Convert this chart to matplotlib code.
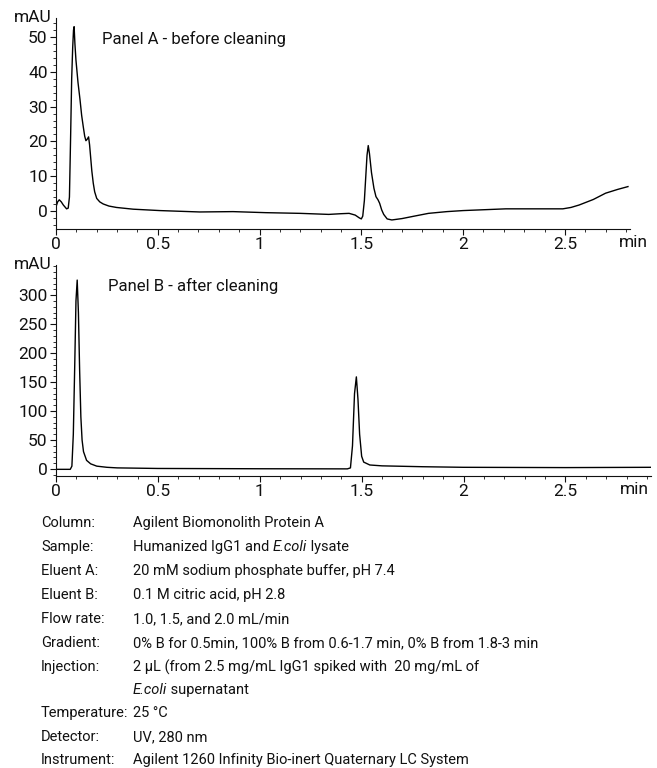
import matplotlib
matplotlib.use("Agg")
import matplotlib.pyplot as plt
from matplotlib.ticker import MultipleLocator, FixedLocator, FuncFormatter
from matplotlib.transforms import blended_transform_factory

plt.rcParams['font.family'] = ['Roboto', 'DejaVu Sans']

textColour = '#111111'
tickSize = 12.5
titleSize = 12
blockSize = 10.5

# Panel A - before cleaning (time in min, signal in mAU)
timeA = [0.0, 0.008, 0.016, 0.026, 0.036, 0.052, 0.06, 0.066, 0.072, 0.077,
         0.082, 0.086, 0.089, 0.093, 0.098, 0.108, 0.118, 0.126, 0.134, 0.141,
         0.147, 0.153, 0.16, 0.165, 0.17, 0.176, 0.183, 0.19, 0.2, 0.215,
         0.232, 0.26, 0.297, 0.379, 0.51, 0.706, 0.87, 1.03, 1.2, 1.34,
         1.40, 1.44, 1.47, 1.49, 1.50, 1.507, 1.515, 1.522, 1.528, 1.534,
         1.54, 1.55, 1.562, 1.572, 1.582, 1.59, 1.60, 1.61, 1.627, 1.65,
         1.7, 1.76, 1.83, 1.92, 2.0, 2.21, 2.40, 2.49, 2.53, 2.57,
         2.64, 2.70, 2.76, 2.81]
signalA = [1.2, 2.6, 3.2, 2.6, 1.7, 0.6, 0.8, 4.0, 22.0, 38.0,
           47.0, 52.0, 53.0, 48.0, 43.4, 37.0, 32.0, 27.5, 24.2, 21.5,
           20.2, 20.6, 21.3, 19.0, 15.6, 11.5, 8.0, 5.5, 3.6, 2.6,
           2.0, 1.4, 1.0, 0.5, 0.1, -0.3, -0.2, -0.5, -0.7, -1.0,
           -0.8, -0.7, -1.2, -2.0, -2.3, -1.5, 3.0, 10.0, 16.0, 18.8,
           16.5, 11.0, 6.5, 4.1, 3.2, 2.2, 0.3, -1.0, -2.3, -2.6,
           -2.2, -1.5, -0.7, -0.2, 0.1, 0.6, 0.6, 0.6, 1.0, 1.7,
           3.3, 5.1, 6.2, 7.0]

# Panel B - after cleaning
timeB = [0.0, 0.07, 0.078, 0.085, 0.092, 0.098, 0.104, 0.11, 0.116, 0.122,
         0.128, 0.135, 0.15, 0.17, 0.2, 0.25, 0.3, 0.5, 1.0, 1.43,
         1.445, 1.455, 1.465, 1.474, 1.482, 1.49, 1.5, 1.51, 1.54, 1.6,
         1.8, 2.0, 2.5, 2.92]
signalB = [-0.5, -0.5, 5.0, 60.0, 180.0, 290.0, 326.0, 270.0, 170.0, 90.0,
           50.0, 30.0, 15.0, 9.0, 5.0, 3.0, 2.0, 1.0, 0.5, 0.3,
           2.0, 40.0, 130.0, 159.0, 120.0, 60.0, 22.0, 12.0, 7.0, 5.5,
           4.0, 3.0, 2.5, 3.0]

conditionLabels = ["Column:", "Sample:", "Eluent A:", "Eluent B:", "Flow rate:",
                   "Gradient:", "Injection:", "", "Temperature:", "Detector:",
                   "Instrument:"]
# each value is a list of (text, italic) pieces
conditionValues = [
    [("Agilent Biomonolith Protein A", False)],
    [("Humanized IgG1 and ", False), ("E.coli", True), (" lysate", False)],
    [("20 mM sodium phosphate buffer, pH 7.4", False)],
    [("0.1 M citric acid, pH 2.8", False)],
    [("1.0, 1.5, and 2.0 mL/min", False)],
    [("0% B for 0.5min, 100% B from 0.6-1.7 min, 0% B from 1.8-3 min", False)],
    [("2 \u00b5L (from 2.5 mg/mL IgG1 spiked with  20 mg/mL of", False)],
    [("E.coli", True), (" supernatant", False)],
    [("25 \u00b0C", False)],
    [("UV, 280 nm", False)],
    [("Agilent 1260 Infinity Bio-inert Quaternary LC System", False)],
]

W, H = 657, 768
fig = plt.figure(figsize=(W / 100, H / 100), dpi=100)


def box(left, right, top, bottom):
    return [left / W, 1 - bottom / H, (right - left) / W, (bottom - top) / H]


def fmt(v, pos):
    return "%g" % v


def styleAxes(ax, xmax, ylim, yticks, yminor, title, titleX):
    ax.set_xlim(0, xmax)
    ax.set_ylim(*ylim)
    ax.spines[['right', 'top']].set_visible(False)
    ax.spines[['left', 'bottom']].set_color(textColour)
    ax.spines[['left', 'bottom']].set_linewidth(0.8)
    ax.xaxis.set_major_locator(MultipleLocator(0.5))
    ax.xaxis.set_minor_locator(MultipleLocator(0.1))
    ax.yaxis.set_major_locator(FixedLocator(yticks))
    ax.yaxis.set_minor_locator(MultipleLocator(yminor))
    ax.xaxis.set_major_formatter(FuncFormatter(fmt))
    ax.yaxis.set_major_formatter(FuncFormatter(fmt))
    ax.tick_params(which='major', length=4, width=0.8, color=textColour,
                   labelcolor=textColour, labelsize=tickSize, pad=2)
    ax.tick_params(which='minor', length=2, width=0.6, color=textColour)
    ax.text(-0.008, 1.0, "mAU", transform=ax.transAxes, ha='right', va='center',
            fontsize=tickSize, color=textColour)
    ax.text(2.91, -0.03, "min", ha='right', va='top', fontsize=tickSize,
            color=textColour,
            transform=blended_transform_factory(ax.transData, ax.transAxes))
    ax.text(titleX, 0.9, title, transform=ax.transAxes, ha='left', va='center',
            fontsize=titleSize, color=textColour)


axA = fig.add_axes(box(56, 630, 18, 229))
axA.plot(timeA, signalA, color='black', linewidth=1.0)
styleAxes(axA, 2.82, (-5.2, 55.5), [0, 10, 20, 30, 40, 50], 2,
          "Panel A - before cleaning", 46 / 574)

axB = fig.add_axes(box(56, 651, 265, 476))
axB.plot(timeB, signalB, color='black', linewidth=1.0)
styleAxes(axB, 2.92, (-12, 352), [0, 50, 100, 150, 200, 250, 300], 10,
          "Panel B - after cleaning", 52 / 595)

# experimental conditions block
renderer = fig.canvas.get_renderer()
rowY = [523, 547, 571, 595, 619, 643, 667, 690, 713, 737, 760]
for label, pieces, y in zip(conditionLabels, conditionValues, rowY):
    fig.text(41 / W, 1 - y / H, label, ha='left', va='center',
             fontsize=blockSize, color=textColour)
    x = 133 / W
    for piece, italic in pieces:
        t = fig.text(x, 1 - y / H, piece, ha='left', va='center',
                     fontsize=blockSize, color=textColour,
                     style='italic' if italic else 'normal')
        bb = t.get_window_extent(renderer=renderer)
        x += bb.width / W

fig.savefig("out.png", dpi=100)
